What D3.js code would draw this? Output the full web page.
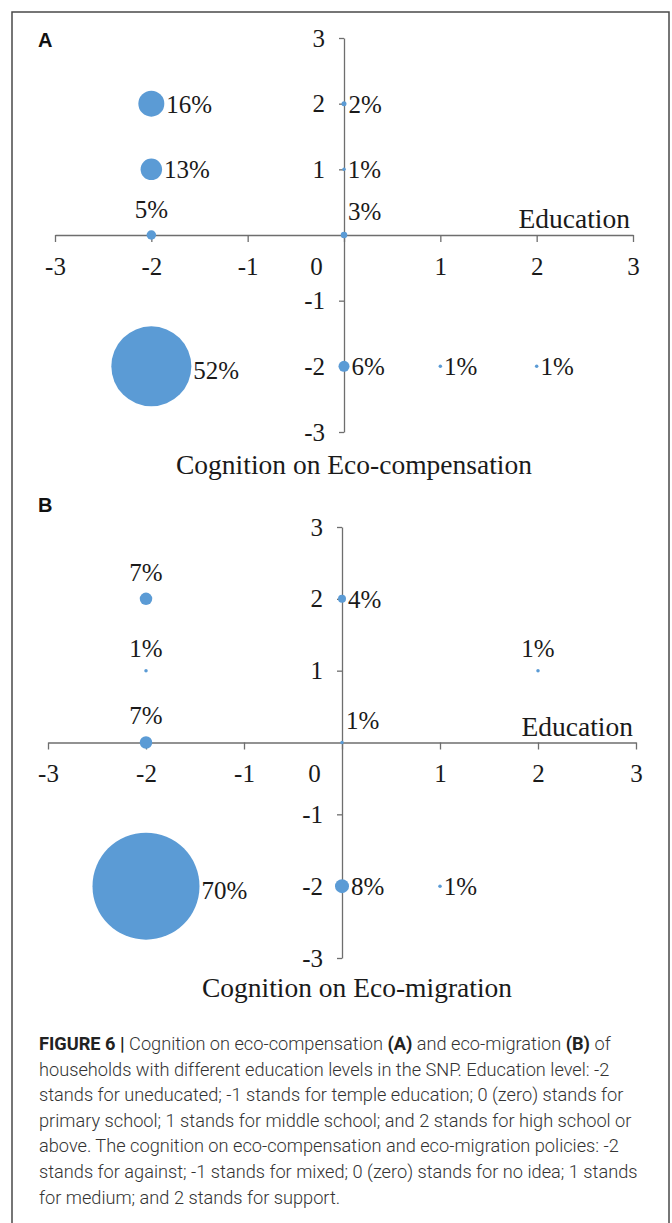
<!DOCTYPE html>
<html>
<head>
<meta charset="utf-8">
<script src="https://cdn.jsdelivr.net/npm/d3@7"></script>
<style>
    body { margin: 0; background: #ffffff; }
    .serifText { font-family: "Liberation Serif", "Times New Roman", serif; fill: #1a1a1a; }
    .panelLetter { font-family: "Liberation Sans", Arial, sans-serif; font-weight: bold; font-size: 20px; fill: #111; }
    .captionText { font-family: Roboto, "Liberation Sans", sans-serif; font-weight: 300; font-size: 18.2px; fill: #333; }
</style>
</head>
<body>
<svg id="figSVG" width="672" height="1223"></svg>
<script>
var axisTicks = [-3, -2, -1, 0, 1, 2, 3];

// panel A : cognition on eco-compensation vs education
var eduA = [-2, -2, -2, 0, 0, 0, -2, 0, 1, 2];
var cogA = [2, 1, 0, 0, 2, 1, -2, -2, -2, -2];
var pctA = [16, 13, 5, 3, 2, 1, 52, 6, 1, 1];

// panel B : cognition on eco-migration vs education
var eduB = [-2, -2, -2, 0, 0, 2, -2, 0, 1];
var cogB = [2, 1, 0, 2, 0, 1, -2, -2, -2];
var pctB = [7, 1, 7, 4, 1, 1, 70, 8, 1];

// label placement (r = right, t = top, tr = top right)
var sideA = ["r", "r", "t", "tr", "r", "r", "r", "r", "r", "r"];
var sideB = ["t", "t", "t", "r", "tr", "t", "r", "r", "r"];

var captionLines = [
    "**FIGURE 6 |** Cognition on eco-compensation **(A)** and eco-migration **(B)** of",
    "households with different education levels in the SNP. Education level: -2",
    "stands for uneducated; -1 stands for temple education; 0 (zero) stands for",
    "primary school; 1 stands for middle school; and 2 stands for high school or",
    "above. The cognition on eco-compensation and eco-migration policies: -2",
    "stands for against; -1 stands for mixed; 0 (zero) stands for no idea; 1 stands",
    "for medium; and 2 stands for support."
];

var svg = d3.select("#figSVG");

// bubble width grows with the share
var rScale = d3.scaleLinear().domain([0, 70]).range([1, 53.5]);

svg.append("rect")
    .attr("width", 672)
    .attr("height", 1223)
    .attr("fill", "#ffffff");

svg.append("path")
    .attr("d", "M12,1240V12H669V1240")
    .attr("fill", "none")
    .attr("stroke", "#4a4a4a")
    .attr("stroke-width", 1.5);

function drawPanel(id, letter, edu, cog, pct, side, cfg){
    var g = svg.append("g").attr("id", id);

    var x = d3.scaleLinear().domain([-3, 3]).range(cfg.xRange);
    var y = d3.scaleLinear().domain([-3, 3]).range(cfg.yRange);

    var xAxis = g.append("g")
        .attr("transform", "translate(0," + y(0) + ")")
        .call(d3.axisBottom(x)
            .tickValues(axisTicks)
            .tickSize(7)
            .tickSizeOuter(0)
            .tickPadding(15)
            .tickFormat(function(d){ return String(d); }));

    var yAxis = g.append("g")
        .attr("transform", "translate(" + x(0) + ",0)")
        .call(d3.axisLeft(y)
            .tickValues(axisTicks.filter(function(d){ return d != 0; }))
            .tickSize(5)
            .tickSizeOuter(0)
            .tickPadding(14)
            .tickFormat(function(d){ return String(d); }));

    // 0 label sits left of the vertical axis
    xAxis.selectAll(".tick")
        .filter(function(d){ return d == 0; })
        .select("text")
        .attr("x", -28);

    [xAxis, yAxis].forEach(function(ax){
        ax.attr("font-family", null).attr("font-size", null);
        ax.selectAll("path, line")
            .attr("stroke", "#6e6e6e")
            .attr("stroke-width", 1.3);
        ax.selectAll("text")
            .attr("class", "serifText")
            .attr("fill", null)
            .style("font-size", "25px");
    });

    g.append("text")
        .attr("class", "panelLetter")
        .attr("x", 38)
        .attr("y", cfg.letterY)
        .text(letter);

    g.append("text")
        .attr("class", "serifText")
        .attr("x", cfg.eduX)
        .attr("y", y(0) - 7)
        .attr("text-anchor", "end")
        .style("font-size", "27.5px")
        .text("Education");

    g.append("text")
        .attr("class", "serifText")
        .attr("x", cfg.titleX)
        .attr("y", cfg.titleY)
        .attr("text-anchor", "middle")
        .style("font-size", "27.5px")
        .text(cfg.title);

    var idx = d3.range(pct.length);

    g.selectAll("circle")
        .data(idx)
        .join("circle")
        .attr("cx", function(i){ return x(edu[i]); })
        .attr("cy", function(i){ return y(cog[i]); })
        .attr("r", function(i){ return rScale(pct[i]); })
        .attr("fill", "#5b9bd5");

    g.selectAll(".bubbleLabel")
        .data(idx)
        .join("text")
        .attr("class", "serifText bubbleLabel")
        .style("font-size", "25px")
        .attr("text-anchor", function(i){ return side[i] == "t" ? "middle" : "start"; })
        .attr("x", function(i){
            if (side[i] == "r") return x(edu[i]) + rScale(pct[i]) + 2;
            if (side[i] == "tr") return x(edu[i]) + 4;
            return x(edu[i]);
        })
        .attr("y", function(i){
            if (side[i] == "r") return y(cog[i]) + 9 + (pct[i] > 40 ? 4 : 0);
            return y(cog[i]) - rScale(pct[i]) - 12;
        })
        .text(function(i){ return pct[i] + "%"; });
}

drawPanel("panelA", "A", eduA, cogA, pctA, sideA, {
    xRange: [55, 633],
    yRange: [432, 38],
    letterY: 47,
    eduX: 630,
    titleX: 354,
    titleY: 474,
    title: "Cognition on Eco-compensation"
});

drawPanel("panelB", "B", eduB, cogB, pctB, sideB, {
    xRange: [48, 636],
    yRange: [958, 527],
    letterY: 512,
    eduX: 633,
    titleX: 357,
    titleY: 997,
    title: "Cognition on Eco-migration"
});

// caption
var cap = svg.append("g").attr("id", "caption");
captionLines.forEach(function(line, k){
    var t = cap.append("text")
        .attr("class", "captionText")
        .attr("x", 39)
        .attr("y", 1050 + k * 25.6);
    line.split("**").forEach(function(part, j){
        if (part.length == 0) return;
        t.append("tspan")
            .style("font-weight", j % 2 == 1 ? "700" : "300")
            .style("fill", j % 2 == 1 ? "#222" : null)
            .text(part);
    });
});
</script>
</body>
</html>
